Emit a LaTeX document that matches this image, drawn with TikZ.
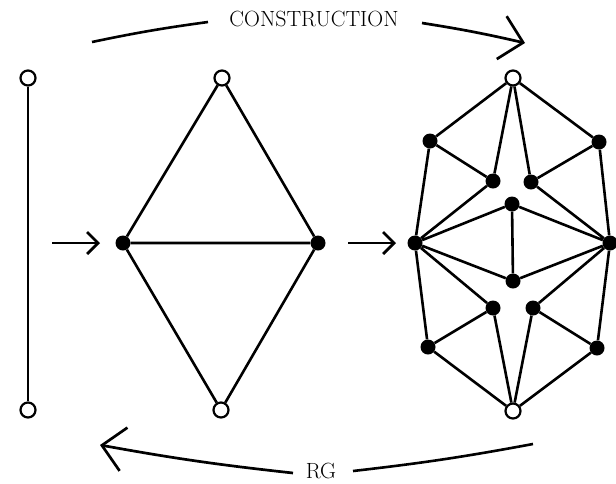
\documentclass[tikz,border=0pt]{standalone}
\usepackage{fontspec}
\usetikzlibrary{arrows.meta}
\begin{document}
\begin{tikzpicture}[x=1pt,y=-1pt,
  open/.style={circle,draw,fill=white,line width=2.2pt,minimum size=15pt,inner sep=0pt},
  dot/.style={circle,fill=black,minimum size=15pt,inner sep=0pt},
  edge/.style={line width=2.6pt},
  bigarrow/.style={line width=2.7pt,-{Straight Barb[length=22pt,width=44pt,line width=2.7pt]}},
  smallarrow/.style={line width=2.7pt,-{Straight Barb[length=11pt,width=22pt,line width=2.7pt]}},
  lab/.style={font=\fontsize{22}{26}\selectfont,inner sep=0pt}]
\useasboundingbox (0,0) rectangle (616,483);
% left graph
\node[open] (a1) at (28,78) {};
\node[open] (a2) at (28,410) {};
\draw[edge] (a1) -- (a2);
% middle graph
\node[open] (b1) at (222,78) {};
\node[dot] (bl) at (123,243) {};
\node[dot] (br) at (318,243) {};
\node[open] (b2) at (221,410) {};
\draw[edge] (b1) -- (bl) (b1) -- (br) (bl) -- (br) (bl) -- (b2) (br) -- (b2);
% right graph
\node[open] (t) at (513,78) {};
\node[open] (bo) at (513,411) {};
\node[dot] (L) at (415,243) {};
\node[dot] (R) at (610,243) {};
\node[dot] (ul) at (430,141) {};
\node[dot] (ur) at (599,142) {};
\node[dot] (ll) at (428,347) {};
\node[dot] (lr) at (597,348) {};
\node[dot] (iul) at (493,181) {};
\node[dot] (iur) at (531,182) {};
\node[dot] (ill) at (493,308) {};
\node[dot] (ilr) at (533,308) {};
\node[dot] (ct) at (512,204) {};
\node[dot] (cb) at (513,281) {};
\draw[edge] (t) -- (ul) (t) -- (ur) (t) -- (iul) (t) -- (iur)
  (ul) -- (iul) (ul) -- (L) (ur) -- (iur) (ur) -- (R)
  (iul) -- (L) (iur) -- (R)
  (ct) -- (L) (ct) -- (R) (ct) -- (cb)
  (cb) -- (L) (cb) -- (R)
  (ill) -- (L) (ilr) -- (R)
  (ll) -- (L) (ll) -- (ill) (ll) -- (bo)
  (lr) -- (R) (lr) -- (ilr) (lr) -- (bo)
  (ill) -- (bo) (ilr) -- (bo);
% horizontal arrows
\coordinate (h1s) at (52,243);
\coordinate (h1e) at (100,243);
\coordinate (h2s) at (348,243);
\coordinate (h2e) at (396,243);
\draw[smallarrow] (h1s) -- (h1e);
\draw[smallarrow] (h2s) -- (h2e);
% construction
\node[lab] (con) at (314,19) {CONSTRUCTION};
\coordinate (c1) at (92,42);
\coordinate (c2) at (208,22);
\coordinate (c3) at (422,23);
\coordinate (c4) at (525,43);
\draw[edge] (c1) to[bend left=2] (c2);
\draw[bigarrow] (c3) to[bend left=2] (c4);
% RG
\node[lab] (rg) at (321,471) {RG};
\coordinate (r1) at (533,444);
\coordinate (r2) at (353,471);
\coordinate (r3) at (293,473);
\coordinate (r4) at (100,445);
\draw[edge] (r1) to[bend left=2] (r2);
\draw[bigarrow] (r3) to[bend left=2] (r4);
\end{tikzpicture}
\end{document}
